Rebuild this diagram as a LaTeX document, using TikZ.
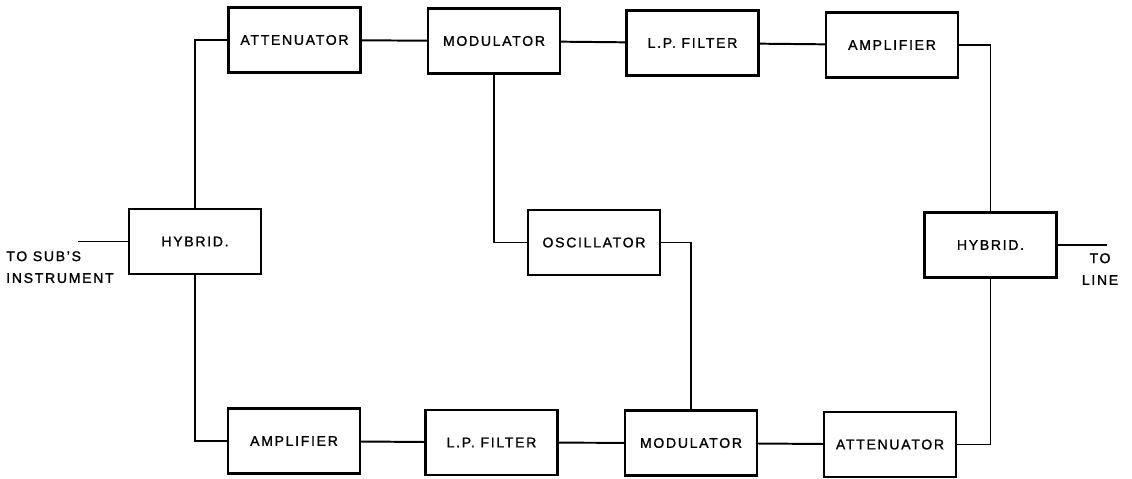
\documentclass[tikz,border=0pt]{standalone}
\usepackage{fontspec}
\setmainfont{Liberation Sans}[LetterSpace=12, FakeBold=1.2]
\usepackage{tikz}
\usetikzlibrary{positioning}
\tikzset{
    blk_node/.style = {rectangle, draw=black, line width=1.5pt, align=center, inner sep=0pt,
                       minimum width=3.3cm, minimum height=1.625cm, font=\fontsize{10pt}{15pt}\selectfont},
    side_text/.style = {inner sep=0pt, font=\fontsize{10pt}{15.5pt}\selectfont},
    wire/.style = {draw=black, line width=1.4pt}
}

\begin{document}
\begin{tikzpicture}[x=0.025cm, y=-0.025cm]
    \useasboundingbox (0,0) rectangle (1132,479);
    \node [blk_node] (att_top) at (294.5,40) {ATTENUATOR};
    \node [blk_node] (mod_top) at (494,41) {MODULATOR};
    \node [blk_node] (lpf_top) at (692.5,43) {L.P. FILTER};
    \node [blk_node] (amp_top) at (892,45) {AMPLIFIER};
    \node [blk_node] (hyb_left) at (195,241.5) {HYBRID.};
    \node [blk_node] (osc) at (594,242.5) {OSCILLATOR};
    \node [blk_node] (hyb_right) at (990.5,245) {HYBRID.};
    \node [blk_node] (amp_bot) at (294,441) {AMPLIFIER};
    \node [blk_node] (lpf_bot) at (491.5,442.5) {L.P. FILTER};
    \node [blk_node] (mod_bot) at (691,443) {MODULATOR};
    \node [blk_node] (att_bot) at (890,444.5) {ATTENUATOR};
    \coordinate (sub_end) at (78,241.5);
    \coordinate (line_end) at (1107,245);
    \node [side_text, align=left, anchor=north west] (sub_text) at (6,251) {TO SUB'S\\INSTRUMENT};
    \node [side_text, align=center, anchor=north] (line_text) at (1100,253) {TO\\LINE};

    \draw [wire] (hyb_left.north) |- (att_top.west);
    \draw [wire] (att_top) -- (mod_top);
    \draw [wire] (mod_top) -- (lpf_top);
    \draw [wire] (lpf_top) -- (amp_top);
    \draw [wire] (amp_top.east) -| (hyb_right.north);
    \draw [wire] (hyb_right.south) |- (att_bot.east);
    \draw [wire] (att_bot) -- (mod_bot);
    \draw [wire] (mod_bot) -- (lpf_bot);
    \draw [wire] (lpf_bot) -- (amp_bot);
    \draw [wire] (amp_bot.west) -| (hyb_left.south);
    \draw [wire] (mod_top.south) |- (osc.west);
    \draw [wire] (osc.east) -| (mod_bot.north);
    \draw [wire] (hyb_left.west) -- (sub_end);
    \draw [wire] (hyb_right.east) -- (line_end);
\end{tikzpicture}
\end{document}
